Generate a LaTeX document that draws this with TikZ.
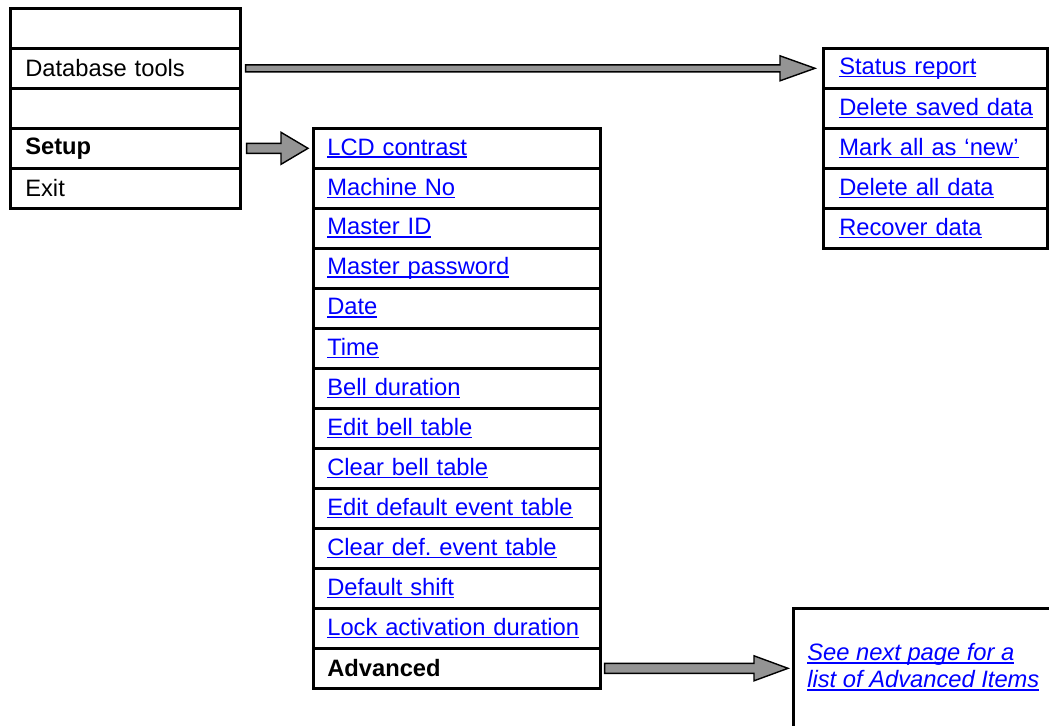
\documentclass[tikz,border=0pt]{standalone}
\usepackage{fontspec}
\setmainfont{Liberation Sans}
\frenchspacing
\usetikzlibrary{calc}
\begin{document}
\begin{tikzpicture}[x=0.02cm, y=-0.02cm]
      \newcommand{\rowh}[0]{40}
      \newcommand{\lnk}[1]{\setbox0\hbox{#1}\rlap{\rule[-1.8pt]{\wd0}{1pt}}\box0}
      \newcommand{\blockarrow}[5]{%
        \draw[barrow] let \p1=(#1), \p2=(#2) in
          (\x1,\y1+#3) -- (\x2-#5,\y1+#3) -- (\x2-#5,\y1+#4) -- (\x2,\y1)
          -- (\x2-#5,\y1-#4) -- (\x2-#5,\y1-#3) -- (\x1,\y1-#3) -- cycle;}

      \tikzstyle{cell}=[
        draw,
        rectangle,
        line width=1.5pt,
        minimum height=0.8cm,
        inner ysep=0pt,
        align=left,
        anchor=north west,
        font=\fontsize{13.5}{14.7}\selectfont
      ]
      \tikzstyle{menu} = [cell, inner xsep=0.3cm, text width=4cm]
      \tikzstyle{setupitem} = [cell, inner xsep=0.28cm, text width=5.18cm, text=linkblue]
      \tikzstyle{dbitem} = [cell, inner xsep=0.32cm, text width=3.84cm, text=linkblue]
      \tikzstyle{notebox} = [draw, line width=1.5pt, minimum width=6.4cm, minimum height=4cm, anchor=north west]
      \tikzstyle{note} = [inner sep=0pt, anchor=north west, align=left, text=linkblue,
        font=\fontsize{13.5}{15.6}\selectfont\itshape]
      \tikzstyle{barrow} = [draw=black, line width=0.8pt, fill=arrowgray, line join=miter]

      \definecolor{linkblue}{rgb}{0.0,0.0,1.0}
      \definecolor{arrowgray}{rgb}{0.58,0.58,0.58}

      \useasboundingbox (0,0) rectangle (1049,726);
      \clip (0,0) rectangle (1049,726);

      \node[menu] (blankA)  at (9, 7) {};
      \node[menu] (dbtools) at (9, 7+\rowh) {Database tools};
      \node[menu] (blankB)  at (9, 7+2*\rowh) {};
      \node[menu] (setup)   at (9, 7+3*\rowh) {\bfseries Setup};
      \node[menu] (exit)    at (9, 7+4*\rowh) {Exit};

      \node[setupitem] (lcd)      at (312, 127) {\lnk{LCD contrast}};
      \node[setupitem] (machine)  at (312, 127+\rowh) {\lnk{Machine No}};
      \node[setupitem] (masterid) at (312, 127+2*\rowh) {\lnk{Master ID}};
      \node[setupitem] (masterpw) at (312, 127+3*\rowh) {\lnk{Master password}};
      \node[setupitem] (date)     at (312, 127+4*\rowh) {\lnk{Date}};
      \node[setupitem] (time)     at (312, 127+5*\rowh) {\lnk{Time}};
      \node[setupitem] (bell)     at (312, 127+6*\rowh) {\lnk{Bell duration}};
      \node[setupitem] (editbell) at (312, 127+7*\rowh) {\lnk{Edit bell table}};
      \node[setupitem] (clrbell)  at (312, 127+8*\rowh) {\lnk{Clear bell table}};
      \node[setupitem] (editevt)  at (312, 127+9*\rowh) {\lnk{Edit default event table}};
      \node[setupitem] (clrevt)   at (312, 127+10*\rowh) {\lnk{Clear def. event table}};
      \node[setupitem] (shift)    at (312, 127+11*\rowh) {\lnk{Default shift}};
      \node[setupitem] (lock)     at (312, 127+12*\rowh) {\lnk{Lock activation duration}};
      \node[setupitem, text=black] (adv) at (312, 127+13*\rowh) {\bfseries Advanced};

      \node[dbitem] (status)  at (822, 47) {\lnk{Status report}};
      \node[dbitem] (delsave) at (822, 47+\rowh) {\lnk{Delete saved data}};
      \node[dbitem] (marknew) at (822, 47+2*\rowh) {\lnk{Mark all as ‘new’}};
      \node[dbitem] (delall)  at (822, 47+3*\rowh) {\lnk{Delete all data}};
      \node[dbitem] (recover) at (822, 47+4*\rowh) {\lnk{Recover data}};

      \node[notebox] (advbox) at (792, 607) {};
      \node[note] (note) at (807, 643) {\lnk{See next page for a}\\\lnk{list of Advanced Items}};

      \blockarrow{[xshift=0.08cm]dbtools.east}{[xshift=-0.14cm]status.west}{0.07cm}{0.25cm}{0.7cm}
      \blockarrow{[xshift=0.1cm]setup.east}{[xshift=-0.08cm]lcd.west}{0.1cm}{0.32cm}{0.54cm}
      \blockarrow{[xshift=0.06cm]adv.east}{[xshift=-0.08cm]advbox.west}{0.1cm}{0.25cm}{0.68cm}
    \end{tikzpicture}
\end{document}
